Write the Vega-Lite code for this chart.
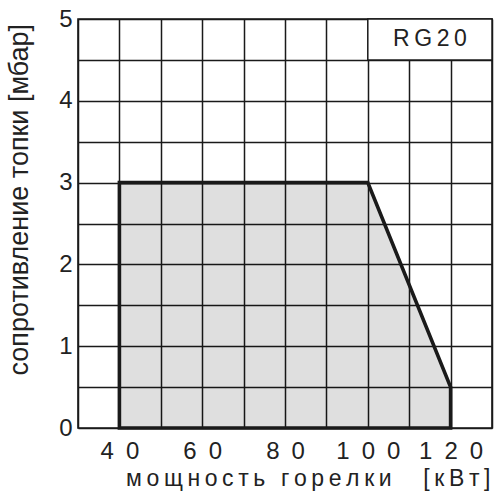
{
  "$schema": "https://vega.github.io/schema/vega-lite/v6.json",
  "autosize": {"type": "none"},
  "padding": {"left": 78, "top": 19, "right": 2, "bottom": 68},
  "width": 414,
  "height": 409,
  "background": "white",
  "config": {
    "view": {"stroke": "#1a1a1a", "strokeWidth": 1.6},
    "font": "Liberation Sans",
    "axis": {
      "domain": false,
      "ticks": false,
      "grid": true,
      "gridColor": "#1a1a1a",
      "gridWidth": 1.5,
      "gridOpacity": 1,
      "labelFont": "Liberation Sans",
      "labelFontSize": 24,
      "labelColor": "#222",
      "labelOverlap": false,
      "labelFlush": false,
      "titleFont": "Liberation Sans",
      "titleFontSize": 23,
      "titleFontWeight": "normal",
      "titleColor": "#222"
    }
  },
  "datasets": {
    "shape": [
      {"power": 40, "resistance": 3},
      {"power": 100, "resistance": 3},
      {"power": 120, "resistance": 0.5}
    ],
    "box": [
      {"x1": 100, "x2": 130, "y1": 4.5, "y2": 5, "tx": 115, "ty": 4.75, "label": "R\u2009G\u20092\u20090"}
    ]
  },
  "layer": [
    {
      "data": {"name": "shape"},
      "mark": {"type": "area", "fill": "#000", "fillOpacity": 0.125, "stroke": "#1a1a1a", "strokeWidth": 3.6, "strokeJoin": "miter"},
      "encoding": {
        "x": {
          "field": "power", "type": "quantitative",
          "scale": {"domain": [30, 130], "nice": false, "zero": false},
          "axis": {
            "values": [30, 40, 50, 60, 70, 80, 90, 100, 110, 120, 130],
            "labelExpr": "(datum.value % 20 == 0 && datum.value >= 40 && datum.value <= 120) ? join(split(datum.label, ''), '\u2002') : ''",
            "labelPadding": 11,
            "title": "м\u2009о\u2009щ\u2009н\u2009о\u2009с\u2009т\u2009ь\u2009 \u2009г\u2009о\u2009р\u2009е\u2009л\u2009к\u2009и\u2009\u2002\u2009 \u2009[\u2009к\u2009В\u2009т\u2009]",
            "titleAnchor": "start",
            "titleAlign": "right",
            "titleBaseline": "alphabetic",
            "titleX": 412,
            "titleY": 57
          }
        },
        "y": {
          "field": "resistance", "type": "quantitative",
          "scale": {"domain": [0, 5], "nice": false},
          "axis": {
            "values": [0, 0.5, 1, 1.5, 2, 2.5, 3, 3.5, 4, 4.5, 5],
            "labelExpr": "datum.value % 1 == 0 ? format(datum.value, 'd') : ''",
            "labelPadding": 6,
            "title": "сопротивление топки [мбар]",
            "titleFontSize": 27,
            "titleAngle": -90,
            "titleAlign": "left",
            "titleBaseline": "alphabetic",
            "titleX": -51,
            "titleY": 356
          }
        }
      }
    },
    {
      "data": {"name": "box"},
      "mark": {"type": "rect", "fill": "white", "stroke": "#1a1a1a", "strokeWidth": 1.5},
      "encoding": {
        "x": {"field": "x1", "type": "quantitative"},
        "x2": {"field": "x2"},
        "y": {"field": "y1", "type": "quantitative"},
        "y2": {"field": "y2"}
      }
    },
    {
      "data": {"name": "box"},
      "mark": {"type": "text", "font": "Liberation Sans", "fontSize": 23, "color": "#222", "align": "center", "baseline": "middle"},
      "encoding": {
        "x": {"field": "tx", "type": "quantitative"},
        "y": {"field": "ty", "type": "quantitative"},
        "text": {"field": "label"}
      }
    }
  ]
}
